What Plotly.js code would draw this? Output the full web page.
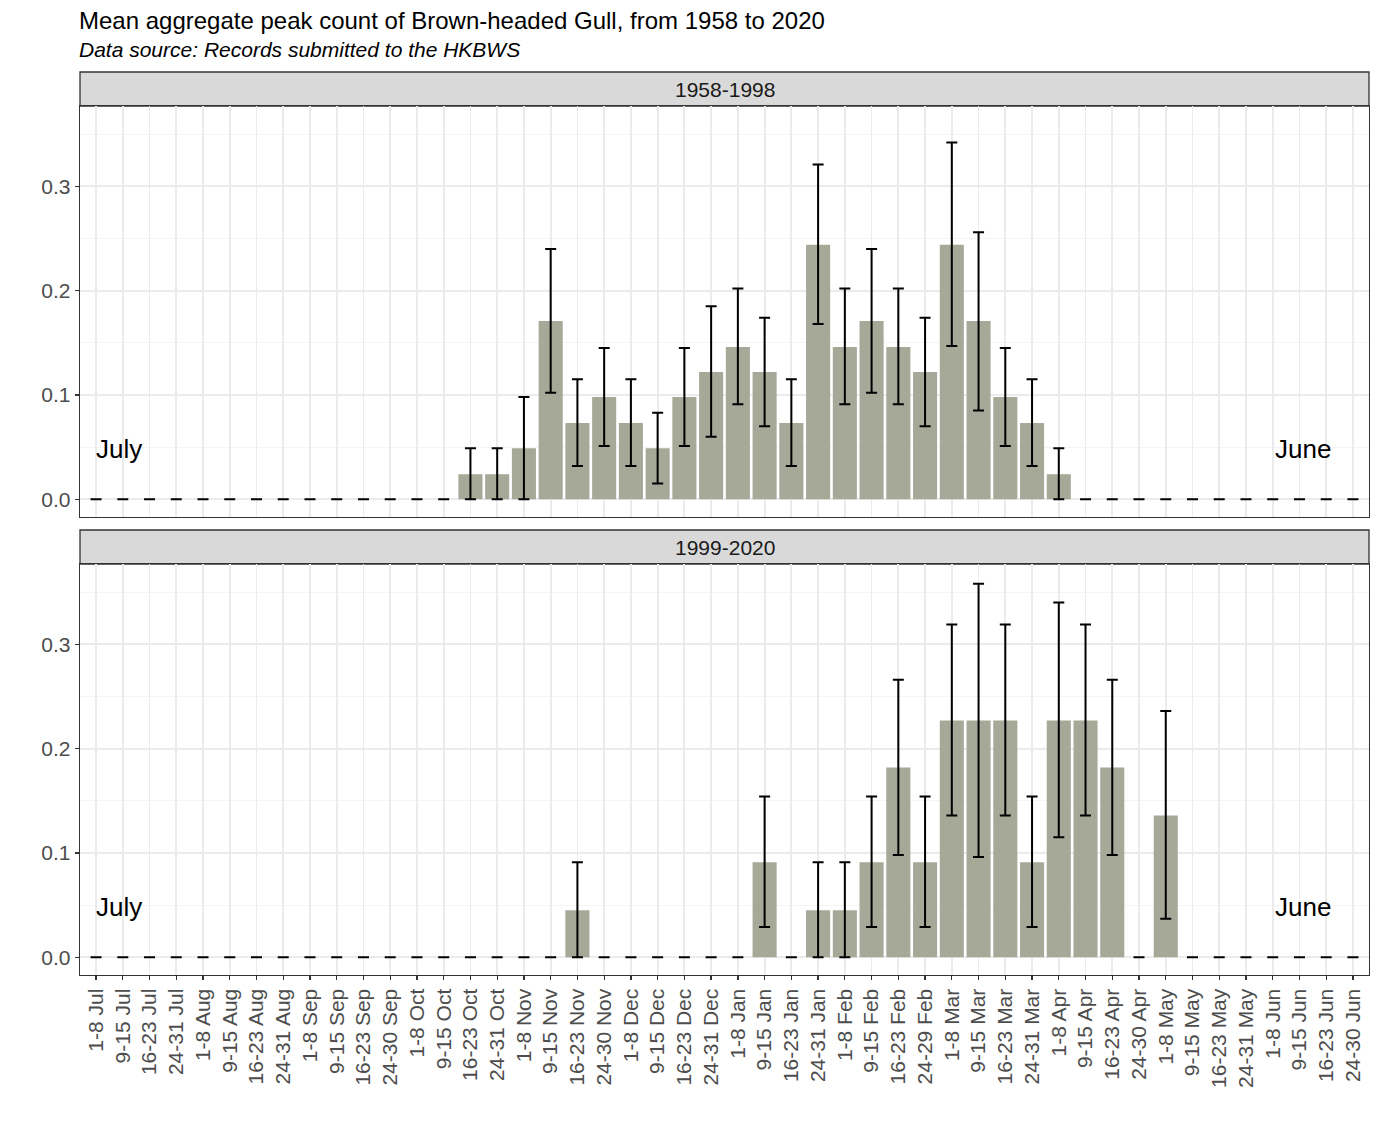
<!DOCTYPE html>
<html>
<head>
<meta charset="utf-8">
<script src="https://cdn.plot.ly/plotly-3.0.1.min.js"></script>
<style>html,body{margin:0;padding:0;background:#fff;}#chart{width:1379px;height:1128px;}</style>
</head>
<body>
<div id="chart"></div>
<script>
const categories = ["1-8 Jul","9-15 Jul","16-23 Jul","24-31 Jul","1-8 Aug","9-15 Aug","16-23 Aug","24-31 Aug",
  "1-8 Sep","9-15 Sep","16-23 Sep","24-30 Sep","1-8 Oct","9-15 Oct","16-23 Oct","24-31 Oct",
  "1-8 Nov","9-15 Nov","16-23 Nov","24-30 Nov","1-8 Dec","9-15 Dec","16-23 Dec","24-31 Dec",
  "1-8 Jan","9-15 Jan","16-23 Jan","24-31 Jan","1-8 Feb","9-15 Feb","16-23 Feb","24-29 Feb",
  "1-8 Mar","9-15 Mar","16-23 Mar","24-31 Mar","1-8 Apr","9-15 Apr","16-23 Apr","24-30 Apr",
  "1-8 May","9-15 May","16-23 May","24-31 May","1-8 Jun","9-15 Jun","16-23 Jun","24-30 Jun"];

// Period 1958-1998
const mean1 = [0,0,0,0,0,0,0,0, 0,0,0,0,0,0,0.024,0.024,
  0.049,0.171,0.073,0.098,0.073,0.049,0.098,0.122,
  0.146,0.122,0.073,0.244,0.146,0.171,0.146,0.122,
  0.244,0.171,0.098,0.073,0.024,0,0,0, 0,0,0,0,0,0,0,0];
const lower1 = [0,0,0,0,0,0,0,0, 0,0,0,0,0,0,0,0,
  0,0.102,0.032,0.051,0.032,0.015,0.051,0.060,
  0.091,0.070,0.032,0.168,0.091,0.102,0.091,0.070,
  0.147,0.085,0.051,0.032,0,0,0,0, 0,0,0,0,0,0,0,0];
const upper1 = [0,0,0,0,0,0,0,0, 0,0,0,0,0,0,0.049,0.049,
  0.098,0.240,0.115,0.145,0.115,0.083,0.145,0.185,
  0.202,0.174,0.115,0.321,0.202,0.240,0.202,0.174,
  0.342,0.256,0.145,0.115,0.049,0,0,0, 0,0,0,0,0,0,0,0];

// Period 1999-2020
const mean2 = [0,0,0,0,0,0,0,0, 0,0,0,0,0,0,0,0,
  0,0,0.045,0,0,0,0,0,
  0,0.091,0,0.045,0.045,0.091,0.182,0.091,
  0.227,0.227,0.227,0.091,0.227,0.227,0.182,0,
  0.136,0,0,0,0,0,0,0];
const lower2 = [0,0,0,0,0,0,0,0, 0,0,0,0,0,0,0,0,
  0,0,0,0,0,0,0,0,
  0,0.029,0,0,0,0.029,0.098,0.029,
  0.136,0.096,0.136,0.029,0.115,0.136,0.098,0,
  0.037,0,0,0,0,0,0,0];
const upper2 = [0,0,0,0,0,0,0,0, 0,0,0,0,0,0,0,0,
  0,0,0.091,0,0,0,0,0,
  0,0.154,0,0.091,0.091,0.154,0.266,0.154,
  0.319,0.358,0.319,0.154,0.340,0.319,0.266,0,
  0.236,0,0,0,0,0,0,0];

const panelTitles = ["1958-1998","1999-2020"];
const titleText = "Mean aggregate peak count of Brown-headed Gull, from 1958 to 2020";
const subtitleText = "Data source: Records submitted to the HKBWS";
const startLabel = "July", endLabel = "June";
const yTicks = [0, 0.1, 0.2, 0.3];

const FONT = "'Liberation Sans', Arial, sans-serif";
const barColor = "#a6a898";

function barTrace(mean, lo, hi, xa, ya) {
  return {
    type: "bar", x: categories, y: mean, xaxis: xa, yaxis: ya, width: 0.9,
    marker: {color: barColor, line: {width: 0}},
    error_y: {type: "data", symmetric: false,
      array: hi.map((h, i) => h - mean[i]),
      arrayminus: lo.map((l, i) => mean[i] - l),
      color: "#000", thickness: 2, width: 5.5},
    hoverinfo: "x+y", showlegend: false
  };
}

const data = [barTrace(mean1, lower1, upper1, "x", "y"), barTrace(mean2, lower2, upper2, "x2", "y2")];

const yRange = [-0.017, 0.377];
const H = 869; // plot area height px
const botTop = (975 - 564) / H;
const topBot = (975 - 517) / H;

function yaxis(domain, anchor) {
  return {domain: domain, anchor: anchor, range: yRange, tickvals: yTicks,
    ticktext: yTicks.map(v => v.toFixed(1)), showgrid: true, gridcolor: "#ebebeb", gridwidth: 1.8,
    minor: {tickvals: [0.05, 0.15, 0.25, 0.35], showgrid: true, gridcolor: "#f4f4f4", gridwidth: 1, ticks: ""},
    zeroline: false, showline: true, mirror: true, linecolor: "#333", linewidth: 1.3,
    ticks: "outside", ticklen: 4, tickwidth: 1.3, tickcolor: "#333",
    tickfont: {family: FONT, size: 21, color: "#4d4d4d"}, automargin: false, fixedrange: true};
}
function xaxis(anchor, showLabels) {
  return {anchor: anchor, type: "category", range: [-0.6, 47.6], showgrid: true, gridcolor: "#ebebeb", gridwidth: 1.8,
    zeroline: false, showline: true, mirror: true, linecolor: "#333", linewidth: 1.3,
    ticks: showLabels ? "outside" : "", ticklen: 4, tickwidth: 1.3, tickcolor: "#333",
    showticklabels: showLabels, tickangle: -90, tickfont: {family: FONT, size: 21, color: "#4d4d4d"},
    automargin: false, fixedrange: true, matches: showLabels ? "x" : undefined};
}

function pY(px) { return (975 - px) / H; }

const shapes = [
  {type: "rect", xref: "paper", yref: "paper", x0: 0, x1: 1, y0: pY(106), y1: pY(72), fillcolor: "#d9d9d9", line: {color: "#333", width: 1.3}, layer: "below"},
  {type: "rect", xref: "paper", yref: "paper", x0: 0, x1: 1, y0: pY(564), y1: pY(530), fillcolor: "#d9d9d9", line: {color: "#333", width: 1.3}, layer: "below"}
];

const annotations = [
  {xref: "paper", yref: "paper", x: 0, y: pY(20), xanchor: "left", yanchor: "middle", showarrow: false,
   text: titleText, font: {family: FONT, size: 24, color: "#000"}, xshift: -3},
  {xref: "paper", yref: "paper", x: 0, y: pY(50), xanchor: "left", yanchor: "middle", showarrow: false,
   text: "<i>" + subtitleText + "</i>", font: {family: FONT, size: 21, color: "#000"}, xshift: -3},
  {xref: "paper", yref: "paper", x: 0.5, y: pY(89), xanchor: "center", yanchor: "middle", showarrow: false,
   text: panelTitles[0], font: {family: FONT, size: 21, color: "#1a1a1a"}},
  {xref: "paper", yref: "paper", x: 0.5, y: pY(547), xanchor: "center", yanchor: "middle", showarrow: false,
   text: panelTitles[1], font: {family: FONT, size: 21, color: "#1a1a1a"}},
  {xref: "x", yref: "y", x: 0, y: 0.048, xanchor: "left", yanchor: "middle", showarrow: false, xshift: -2,
   text: startLabel, font: {family: FONT, size: 26, color: "#000"}},
  {xref: "x", yref: "y", x: 46.13, y: 0.048, xanchor: "right", yanchor: "middle", showarrow: false, xshift: 3,
   text: endLabel, font: {family: FONT, size: 26, color: "#000"}},
  {xref: "x2", yref: "y2", x: 0, y: 0.048, xanchor: "left", yanchor: "middle", showarrow: false, xshift: -2,
   text: startLabel, font: {family: FONT, size: 26, color: "#000"}},
  {xref: "x2", yref: "y2", x: 46.13, y: 0.048, xanchor: "right", yanchor: "middle", showarrow: false, xshift: 3,
   text: endLabel, font: {family: FONT, size: 26, color: "#000"}}
];

const layout = {
  width: 1379, height: 1128,
  margin: {l: 80, r: 10, t: 106, b: 153, pad: 0},
  paper_bgcolor: "#fff", plot_bgcolor: "#fff",
  font: {family: FONT},
  bargap: 0.1,
  xaxis: xaxis("y", false),
  yaxis: yaxis([topBot, 1], "x"),
  xaxis2: xaxis("y2", true),
  yaxis2: yaxis([0, botTop], "x2"),
  shapes: shapes,
  annotations: annotations,
  showlegend: false
};

Plotly.newPlot("chart", data, layout, {displayModeBar: false, staticPlot: true});
</script>
</body>
</html>
